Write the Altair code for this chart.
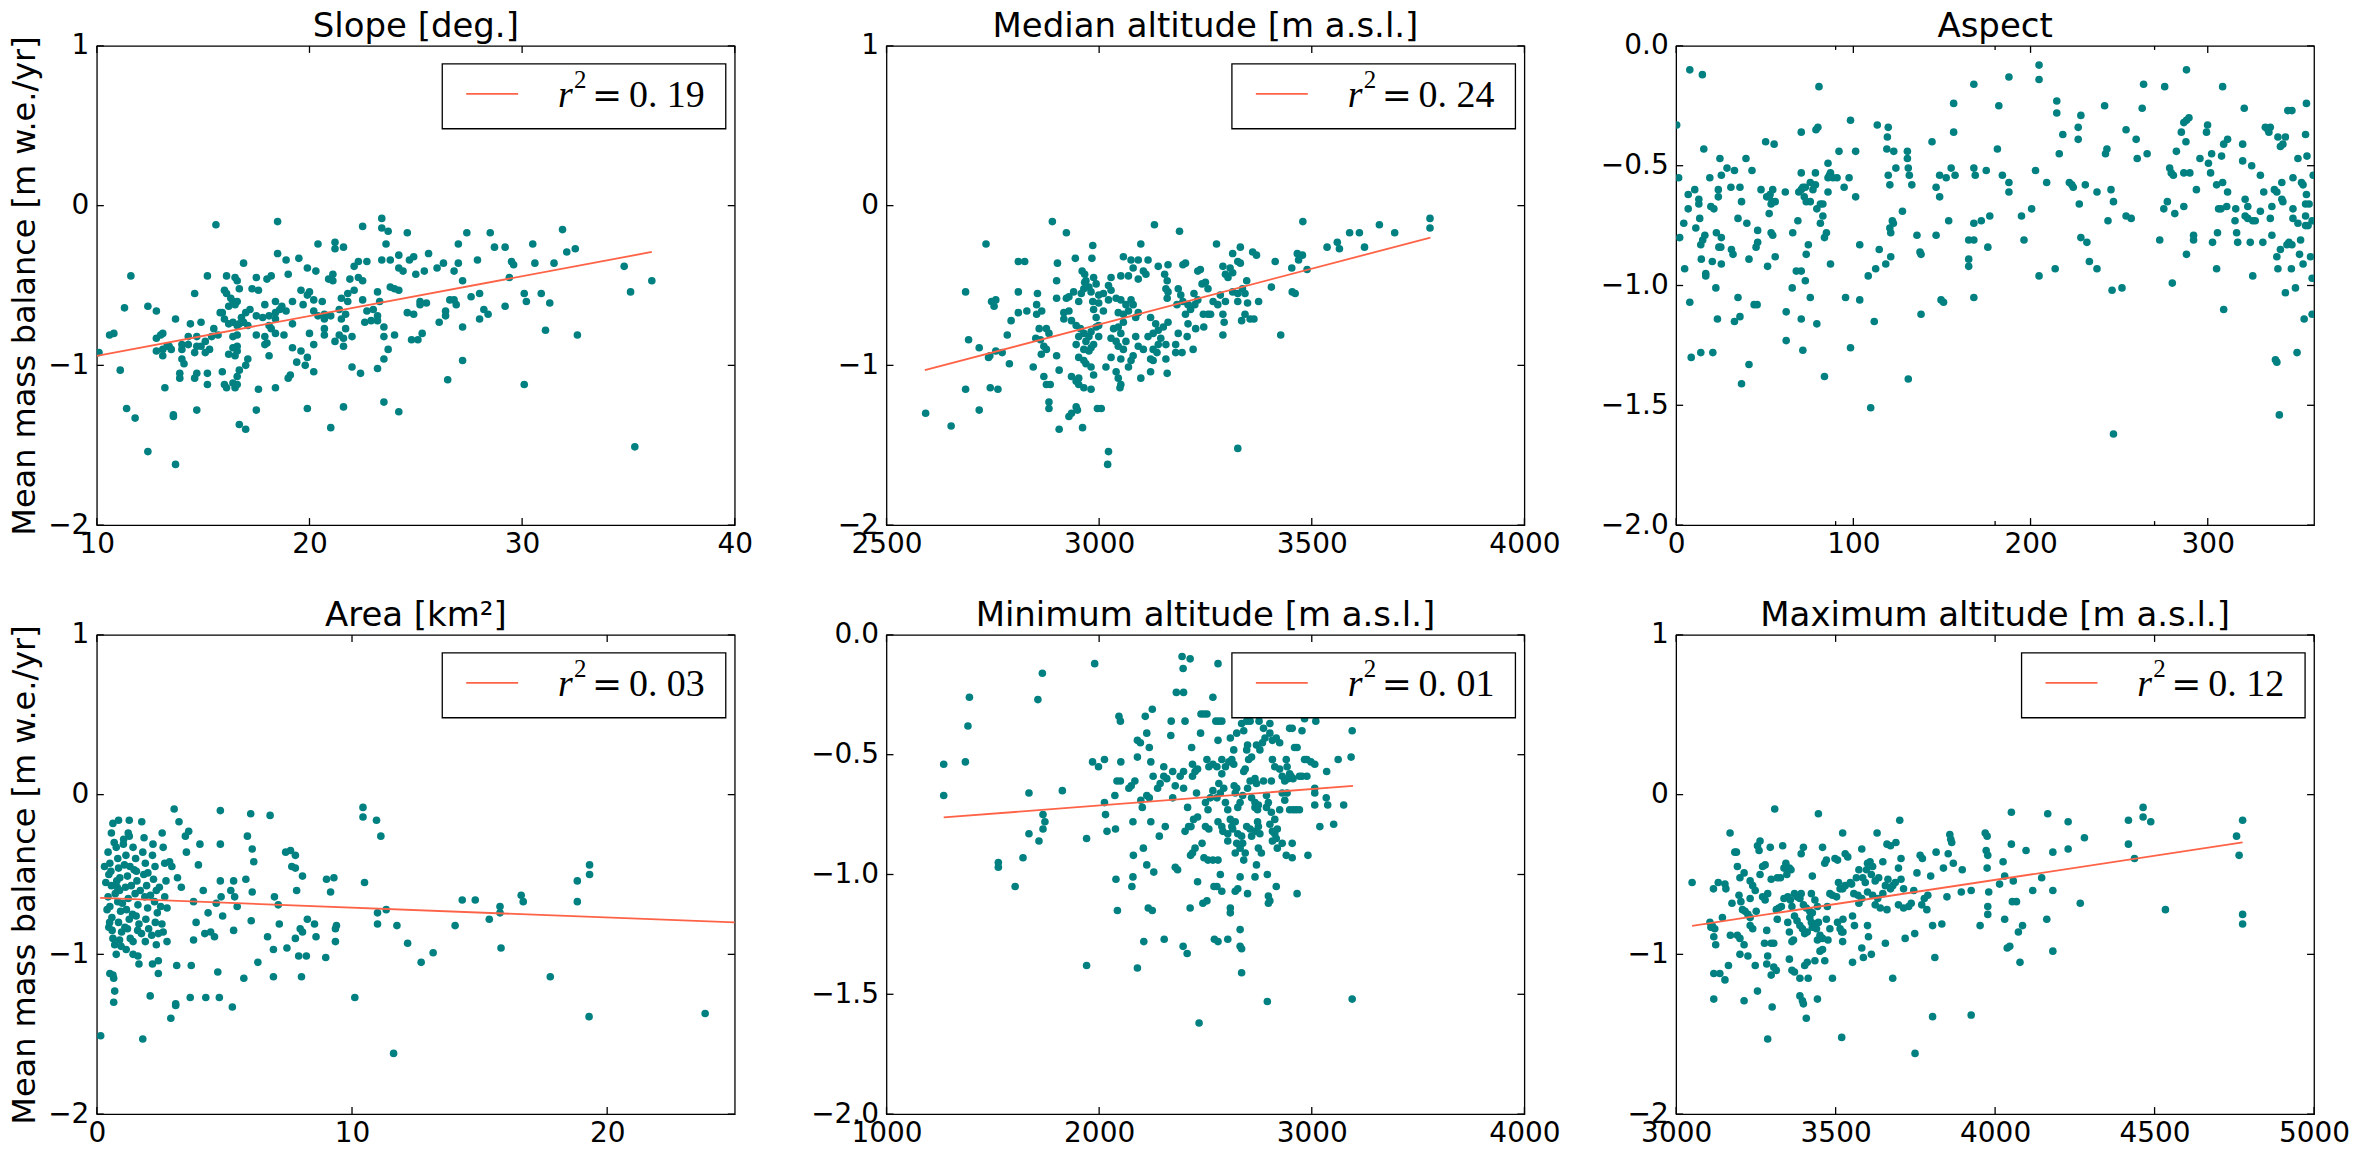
import altair as alt
import pandas as pd

# ---------------- data ----------------
SLOPE_X = [
    15.6, 18.5, 23.4, 23.4, 23.7, 22.5, 24.6, 27.4, 28.5, 31.9,
    20.4, 21.2, 21.2, 21.6, 23.6, 27.0, 28.7, 29.2, 30.5, 32.1, 32.5,
    34.8, 36.1, 35.1, 11.6, 11.3, 12.4, 12.8, 10.6, 10.8, 10.1,
    11.1, 11.4, 11.8, 12.4, 13.7, 13.6, 13.6, 13.2, 14.7, 16.7, 17.0,
    17.5, 19.9, 21.0, 21.6, 23.5, 24.2, 26.5, 27.2, 30.1, 31.1, 32.6, 35.3,
    31.3, 30.9, 30.1, 30.2, 29.2, 29.4, 29.5, 29.6, 30.6, 31.5, 27.9,
    28.2, 28.0, 28.4, 27.6, 28.0, 27.2, 27.0, 26.8, 27.2, 26.0, 26.3,
    26.1, 26.4, 26.4, 26.6, 26.8, 26.9, 25.6, 25.4, 25.0, 24.9, 24.7,
    24.2, 24.4, 24.2, 23.8, 23.4, 24.0, 24.2, 23.8, 23.2, 23.0, 23.3, 23.2,
    22.7, 22.6, 22.9, 23.2, 23.5, 23.5, 24.0, 23.7, 23.5, 23.2, 22.4, 22.0,
    24.8, 25.1, 25.3, 25.2, 25.2, 24.9, 24.6, 25.5,
    22.7, 22.3, 22.1, 22.3, 21.9, 22.5, 22.5, 22.1, 21.8, 21.8, 21.5,
    21.4, 21.7, 21.5, 21.7, 21.4, 21.6, 21.2, 22.0, 21.6,
    20.4, 20.6, 20.2, 20.0, 19.6, 19.9, 19.7, 20.2, 19.9, 20.3, 19.5,
    21.1, 21.1, 20.9, 20.7, 20.7, 21.0, 20.7, 20.7, 20.0,
    20.2, 19.9, 19.8, 20.2, 19.6, 19.4, 19.1, 19.0,
    19.2, 18.8, 19.2, 18.9, 19.2, 18.4, 18.6, 18.4, 18.7,
    17.9, 18.1, 18.4, 18.1, 17.8, 18.2, 18.4, 17.9, 17.5, 17.9, 18.0, 18.1,
    17.5, 17.2, 17.0, 16.8, 16.9, 17.1, 17.3, 17.6, 17.5, 18.0, 18.2,
    18.5, 18.9, 19.0,
    16.9, 16.5, 16.6, 16.7, 16.1, 16.0, 16.1, 16.3, 16.4, 16.6, 16.2, 16.5,
    15.8, 15.9, 16.0, 16.2, 16.4, 16.6, 16.7, 16.6, 16.4, 16.6, 16.4, 16.6, 16.2, 16.5,
    17.1, 17.0, 16.7, 16.6, 16.4, 16.1, 16.5, 16.6, 17.6, 18.4, 15.9, 16.0, 15.2, 15.2,
    15.3, 15.4, 15.1, 15.5, 15.7, 15.2, 14.6, 14.4, 14.9,
    14.7, 14.9, 14.7, 14.6, 15.1, 14.7, 14.6, 14.0, 14.0, 14.1, 13.9, 13.9,
    13.7, 13.4, 13.5, 14.0, 13.0, 13.1, 12.8, 13.1, 12.8, 13.1, 13.3, 14.3, 14.3,
]
SLOPE_Y = [
    -0.12, -0.10, -0.08, -0.14, -0.16, -0.13, -0.17, -0.17, -0.17, -0.15,
    -0.24, -0.23, -0.27, -0.26, -0.24, -0.24, -0.26, -0.26, -0.24, -0.29, -0.27,
    -0.38, -0.47, -0.54, -0.44, -0.64, -0.63, -0.66, -0.81, -0.80, -0.92,
    -1.03, -1.27, -1.33, -1.54, -1.62, -1.31, -1.32, -1.14, -1.28, -1.37, -1.40,
    -1.28, -1.27, -1.39, -1.26, -1.23, -1.29, -1.09, -0.97, -1.12, -0.78, -0.81, -1.51,
    -0.61, -0.55, -0.55, -0.60, -0.63, -0.45, -0.35, -0.37, -0.36, -0.36, -0.34,
    -0.65, -0.71, -0.68, -0.57, -0.55, -0.47, -0.36, -0.41, -0.76, -0.39, -0.36,
    -0.73, -0.69, -0.66, -0.59, -0.59, -0.62, -0.30, -0.41, -0.43, -0.32, -0.34,
    -0.31, -0.41, -0.39, -0.34, -0.34, -0.52, -0.53, -0.51, -0.54, -0.65, -0.60, -0.69,
    -0.66, -0.73, -0.72, -0.72, -0.76, -0.82, -0.81, -0.90, -0.96, -1.02, -1.05, -1.01,
    -0.84, -0.84, -0.80, -0.60, -0.62, -0.68, -0.67, -0.61,
    -0.35, -0.35, -0.38, -0.45, -0.46, -0.47, -0.59, -0.53, -0.55, -0.60, -0.58,
    -0.65, -0.68, -0.71, -0.77, -0.81, -0.83, -0.85, -0.82, -0.88,
    -0.69, -0.60, -0.59, -0.54, -0.53, -0.56, -0.62, -0.66, -0.39, -0.41, -0.33,
    -0.43, -0.47, -0.46, -0.71, -0.68, -0.69, -0.77, -0.81, -0.80,
    -0.87, -0.95, -1.00, -1.04, -0.91, -0.98, -1.06, -1.08,
    -0.89, -0.81, -0.74, -0.66, -0.60, -0.67, -0.65, -0.60, -0.63,
    -0.62, -0.69, -0.71, -0.75, -0.70, -0.77, -0.80, -0.82, -0.81, -0.87, -0.86, -0.94,
    -0.69, -0.65, -0.67, -0.70, -0.73, -0.75, -0.52, -0.53, -0.45, -0.46, -0.44,
    -0.30, -0.34, -0.43,
    -0.36, -0.45, -0.47, -0.52, -0.44, -0.53, -0.55, -0.58, -0.60, -0.60, -0.63, -0.62,
    -0.67, -0.67, -0.71, -0.74, -0.73, -0.75, -0.74, -0.81, -0.82, -0.88, -0.89, -0.91, -0.93, -0.94,
    -0.96, -1.00, -1.03, -1.07, -1.11, -1.14, -1.14, -1.12, -1.15, -1.14, -1.04, -1.12, -1.12, -1.05,
    -0.90, -0.82, -0.85, -0.77, -0.81, -0.44, -0.55, -0.74, -0.73,
    -0.82, -0.88, -0.88, -0.92, -0.92, -1.05, -1.08, -0.90, -0.96, -0.99, -1.05, -1.08,
    -0.71, -0.88, -0.90, -0.87, -0.81, -0.80, -0.83, -0.90, -0.91, -0.94, -0.88, -0.82, -0.87,
]

MED_X = [
    2890, 2923, 2734, 2985, 3130, 3098, 3189, 3276, 3332, 3479,
    3589, 3612, 3659, 3695, 3778, 3778, 3536, 3560, 3565, 3624,
    3414, 3466, 3478, 3469, 3453, 3489, 3454, 3461, 3405, 3427,
    3361, 3370, 3314, 3326, 3308, 3332, 3297, 3303, 3291, 3314,
    3347, 3337, 3343, 3326, 3314, 3326, 3349, 3375,
    3297, 3285, 3279, 3268, 3262, 3291, 3291, 3294, 3335, 3355, 3364, 3343,
    3250, 3256, 3242, 3223, 3232, 3238, 3232, 3197, 3203, 3162, 3139,
    3115, 3092, 3075, 3057, 3080, 3104, 3092, 3110, 3069, 3051, 3028, 3022,
    3154, 3160, 3157, 3162, 3186, 3192, 3160, 3197, 3183,
    3209, 3215, 3225, 3203, 3245, 3256, 3246, 3227, 3209, 3221,
    3207, 3195, 3180, 3160,
    3162, 3151, 3133, 3121, 3139, 3127, 3145, 3115, 3186, 3180,
    3157, 3139, 3127, 3136, 3157, 3121, 3127, 3121, 3098,
    3104, 3092, 3080, 3086, 3063, 3075, 3069,
    3092, 3086, 3080, 3075, 3069, 3057, 3045, 3040, 3051, 3063,
    3057, 3045, 3034, 3051, 3028, 3040, 3045, 3057, 3051, 3028,
    3040, 3045, 3051, 3049, 3016, 3005, 3022, 3020, 3326,
    3022, 3028, 3010, 2999, 2999, 3010, 2993, 2987, 2985,
    2987, 2993, 2981, 2964, 2969, 2966, 2958, 2940, 2929, 2923, 2917, 2929, 2952,
    2900, 2917, 2935, 2946, 2956, 2964, 2976, 2981, 2969, 2987, 2981, 2976,
    2999, 2999, 2993, 2952, 2946, 2964, 2952, 2969, 2981, 2987,
    2964, 2952, 2946, 2952, 2964, 2981,
    2935, 2906, 2900, 2882, 2876, 2859, 2862, 2870, 2876, 2864, 2870, 2876, 2885,
    2882, 2882, 2935, 2929, 2946, 2949, 2906, 2961, 2996,
    2845, 2851, 2865, 2853, 2853, 2855, 2830, 2810, 2810, 2793, 2784, 2789, 2772, 2757, 2743,
    2810, 2825, 2902, 2944, 2983, 2900, 2747, 2753, 2757, 2686,
    2693, 2718, 2740, 2744, 2762, 2686, 2718, 2652, 2592, 2960, 2966, 2976,
]
MED_Y = [
    -0.10, -0.17, -0.24, -0.25, -0.12, -0.24, -0.16, -0.24, -0.26, -0.10,
    -0.17, -0.17, -0.12, -0.17, -0.08, -0.14, -0.26, -0.23, -0.27, -0.26,
    -0.35, -0.30, -0.31, -0.34, -0.39, -0.40, -0.54, -0.55, -0.51, -0.81,
    -0.29, -0.31, -0.30, -0.35, -0.39, -0.36, -0.43, -0.45, -0.38, -0.42,
    -0.47, -0.52, -0.55, -0.55, -0.54, -0.60, -0.61, -0.60,
    -0.60, -0.56, -0.62, -0.60, -0.68, -0.68, -0.81, -0.73, -0.72, -0.71, -0.71, -0.68,
    -0.48, -0.52, -0.49, -0.55, -0.59, -0.40, -0.41, -0.37, -0.36, -0.37, -0.38,
    -0.34, -0.34, -0.34, -0.32, -0.39, -0.41, -0.46, -0.43, -0.44, -0.44, -0.45, -0.50,
    -0.43, -0.47, -0.52, -0.54, -0.52, -0.56, -0.58, -0.60, -0.62,
    -0.62, -0.65, -0.62, -0.68, -0.68, -0.68, -0.76, -0.77, -0.74, -0.90,
    -0.82, -0.92, -0.92, -1.05,
    -0.73, -0.76, -0.74, -0.70, -0.78, -0.80, -0.83, -0.82, -0.80, -0.87,
    -0.87, -0.87, -0.90, -0.92, -0.96, -0.96, -0.97, -1.04, -1.08,
    -0.90, -0.88, -0.94, -0.82, -0.85, -0.97, -1.01,
    -0.67, -0.70, -0.62, -0.59, -0.66, -0.68, -0.67, -0.58, -0.59, -0.62,
    -0.73, -0.76, -0.77, -0.80, -0.83, -0.85, -0.88, -0.90, -0.96, -0.95,
    -1.04, -1.08, -1.12, -1.14, -1.01, -1.27, -1.54, -1.62, -1.52,
    -0.59, -0.53, -0.55, -0.56, -0.61, -0.66, -0.70, -0.65, -0.60,
    -0.45, -0.49, -0.54, -0.52, -0.47, -0.43, -0.55, -0.54, -0.57, -0.58, -0.67, -0.66, -0.60,
    -0.58, -0.71, -0.72, -0.75, -0.77, -0.80, -0.82, -0.79, -0.85, -0.87, -0.89, -0.91,
    -0.75, -0.82, -0.76, -0.82, -0.87, -0.90, -0.95, -0.99, -1.01, -1.06,
    -0.97, -1.08, -1.10, -1.12, -1.14, -1.15,
    -1.07, -1.03, -0.94, -0.80, -0.77, -0.77, -0.84, -0.88, -0.90, -0.93, -1.07, -1.12, -1.12,
    -1.23, -1.27, -1.30, -1.32, -1.26, -1.28, -1.40, -1.39, -1.27,
    -1.01, -0.83, -0.66, -0.62, -0.68, -0.55, -0.66, -0.67, -0.54, -0.72, -0.81, -0.99, -0.92, -0.91, -0.94,
    -0.35, -0.35, -0.36, -0.33, -0.33, -0.47, -0.60, -0.63, -0.59, -0.54,
    -0.84, -0.89, -0.95, -1.14, -1.15, -1.15, -1.28, -1.38, -1.30, -0.41, -0.48, -0.51,
]

ASP_X = [
    0.3, 1.4, 2, 4.3, 4.8, 6.8, 7.7, 6.8, 7.7, 8.5,
    10.5, 11.1, 12.8, 12.8, 13.3, 13.9, 15.0, 16.2, 14.2, 13.9,
    14.8, 15.6, 16.7, 16.7, 19, 19.6, 20.4, 21.3, 20.7, 22.4,
    22.7, 23.3, 23.8, 23.8, 24.1, 25.2, 24.7, 25.5, 25.5, 25.5,
    28.7, 30.9, 31.2, 32.1, 32.9, 32.9, 34.9, 34.9, 36, 36,
    36.9, 36.9, 39.4, 39.9, 41.1, 41.1, 42.8, 44, 45.7, 45.1,
    46, 46, 47.9, 50.5, 55.3, 51.1, 52.5, 53, 53.6, 52.5,
    54.5, 54.2, 55.9, 53.6, 51.6, 54.5, 55.9, 61.6, 62.1, 62.1,
    65.5, 65.8, 67.8, 70.6, 68.7, 69.2, 70.6, 71.5, 72.9, 70.6,
    70.6, 70.6, 71.5, 72.3, 73.4, 75.7, 72.9, 73.4, 74.6, 75.7,
    77.2, 78.6, 75.7, 78.6, 78.9, 80, 79.4, 80.6, 79.4, 81.4,
    82.8, 81.4, 82.8, 83.7, 83.7, 84.8, 85.7, 86.5, 85.7, 87.1,
    88.5, 85.7, 87.1, 91.9, 90.8, 94.8, 95.6, 97.6, 98.4, 98.4,
    101.3, 101.3, 103.6, 103.6, 108.4, 109.8, 111.8, 112.6, 113.5, 114.6,
    118.9, 119.2, 119.7, 118.3, 119.7, 120.6, 120.6, 121.1, 121.1, 122,
    122.6, 122.8, 124, 127.7, 130.5, 130.5, 131, 131.6, 131, 133,
    135.9, 137.6, 138.2, 138.2, 144.4, 146.7, 146.7, 148.7, 148.7, 149.5,
    150.9, 152.4, 153.8, 155.2, 157.4, 156.6, 156.6, 165.1, 168, 165.1,
    165.1, 168, 168, 168, 168, 168.8, 172.2, 175, 175.9, 177,
    181.3, 182.1, 184.1, 187.8, 187.8, 187.8, 194.9, 196.3, 200.6, 202.8,
    204.8, 204.8, 204.8, 209.1, 213.9, 214.8, 214.8, 216.2, 218.2, 221.9,
    223.3, 224.1, 226.9, 226.9, 228.4, 227.5, 228.4, 231.8, 230.9, 233.2,
    237.5, 237.5, 241.8, 242.3, 243.1, 243.7, 245.4, 246.8, 246, 246.8,
    251.6, 253.9, 253.9, 256.8, 259.6, 260.2, 263, 263.8, 265.8, 272.9,
    275.2, 277.2, 275.7, 278.5, 279.4, 280.6, 280, 281.4, 282.3, 285.1,
    286.5, 288, 289.4, 286.5, 286.5, 289.9, 287.7, 288, 288, 292,
    292, 293.6, 295.6, 299.3, 299.9, 300.4, 302.2, 301.6, 302.7, 305,
    305, 306.1, 307.5, 305.5, 307.8, 308.4, 308.4, 309, 309, 310.7,
    311.2, 311.2, 315.4, 316.3, 316.9, 315.8, 319.7, 319.7, 320.6, 321.1,
    321.1, 322.6, 322.6, 324, 324.8, 325.4, 326.8, 325.4, 329.7, 329.7,
    331.1, 331.6, 332.5, 334, 335.3, 334.5, 335.3, 336.2, 336.2, 337.6,
    339, 339, 339.6, 338.2, 339, 339.6, 341, 342.4, 343.8, 340.4,
    341, 341.8, 342.4, 341.8, 343.8, 344.7, 345.8, 347.5, 345.2, 347.5,
    347.2, 348.1, 348.1, 348.1, 349.5, 350.4, 350.9, 350.9, 351.8, 352.4,
    352.9, 353.8, 353.8, 354.4, 355.2, 355.2, 356.6, 355.2, 355.2, 357.2,
    355.7, 355.7, 356, 358, 358.9, 358.9, 358.9, 359.5,
]
ASP_Y = [
    -0.33, -0.55, -0.80, -0.74, -0.93, -0.68, -0.10, -0.62, -1.07, -1.30,
    -0.60, -0.76, -0.64, -0.66, -0.72, -0.83, -0.81, -0.79, -0.89, -1.28,
    -0.12, -0.43, -0.95, -0.96, -0.55, -0.67, -0.90, -0.68, -1.28, -1.01,
    -0.78, -1.14, -0.63, -0.60, -0.84, -0.84, -0.47, -0.54, -0.80, -0.91,
    -0.51, -0.59, -0.85, -0.87, -0.52, -1.15, -0.72, -1.05, -0.59, -1.13,
    -0.65, -1.41, -0.47, -0.74, -0.89, -1.33, -0.52, -1.08, -1.08, -0.84,
    -0.82, -0.77, -0.60, -0.40, -0.41, -0.63, -0.63, -0.62, -0.66, -0.70,
    -0.60, -0.65, -0.65, -0.78, -0.92, -0.79, -0.88, -0.61, -1.11, -1.23,
    -1.01, -0.78, -0.94, -0.94, -0.73, -0.61, -0.60, -0.59, -0.59, -0.53,
    -0.36, -1.14, -1.27, -0.63, -0.65, -0.65, -0.98, -0.87, -0.83, -0.57,
    -0.60, -0.58, -1.05, -0.53, -0.35, -0.34, -1.16, -0.17, -0.68, -0.66,
    -0.66, -0.74, -0.71, -0.80, -1.38, -0.78, -0.49, -0.54, -0.55, -0.53,
    -0.55, -0.61, -0.91, -0.44, -0.55, -0.59, -1.05, -0.55, -1.26, -0.31,
    -0.44, -0.63, -1.06, -0.83, -0.96, -1.51, -1.15, -0.93, -0.33, -0.85,
    -0.43, -0.38, -0.34, -0.91, -0.54, -0.58, -0.76, -0.78, -0.88, -0.73,
    -0.74, -0.44, -0.51, -0.69, -0.44, -0.47, -0.51, -0.54, -1.39, -0.58,
    -0.79, -0.86, -0.87, -1.12, -0.40, -0.59, -0.79, -0.54, -0.63, -1.06,
    -1.07, -0.55, -0.73, -0.51, -0.54, -0.36, -0.24, -0.81, -0.81, -0.89,
    -0.92, -0.74, -1.05, -0.16, -0.51, -0.54, -0.73, -0.52, -0.84, -0.71,
    -0.43, -0.25, -0.54, -0.13, -0.57, -0.61, -0.71, -0.81, -0.68, -0.52,
    -0.08, -0.14, -0.96, -0.57, -0.93, -0.23, -0.28, -0.45, -0.37, -0.57,
    -0.58, -0.59, -0.34, -0.39, -0.29, -0.66, -0.80, -0.82, -0.58, -0.90,
    -0.61, -0.93, -0.25, -0.45, -0.43, -0.73, -0.60, -0.65, -1.02, -1.62,
    -1.01, -0.35, -0.71, -0.72, -0.39, -0.47, -0.26, -0.16, -0.45, -0.81,
    -0.68, -0.65, -0.17, -0.51, -0.53, -0.54, -0.99, -0.70, -0.44, -0.36,
    -0.32, -0.31, -0.30, -0.67, -0.53, -0.53, -0.40, -0.10, -0.87, -0.79,
    -0.81, -0.60, -0.47, -0.36, -0.33, -0.49, -0.45, -0.53, -0.82, -0.58,
    -0.93, -0.68, -0.68, -0.78, -0.46, -0.17, -0.57, -0.41, -1.10, -0.67,
    -0.61, -0.39, -0.73, -0.78, -0.82, -0.68, -0.41, -0.48, -0.26, -0.64,
    -0.71, -0.72, -0.67, -0.82, -0.50, -0.73, -0.73, -0.96, -0.54, -0.69,
    -0.82, -0.61, -0.34, -0.35, -0.34, -0.36, -0.72, -0.79, -0.67, -0.60,
    -0.61, -0.88, -0.93, -1.31, -1.32, -0.38, -0.42, -0.41, -0.38, -1.54,
    -0.85, -0.64, -0.65, -0.57, -1.03, -0.83, -0.82, -0.83, -0.27, -0.27,
    -0.93, -0.55, -0.68, -0.72, -1.01, -1.28, -0.47, -0.74, -0.87, -0.81,
    -0.57, -0.58, -0.91, -1.14, -0.71, -0.75, -0.75, -0.37, -0.66, -0.66,
    -0.62, -0.24, -0.46, -0.88, -0.73, -0.97, -1.12, -0.54,
]

AREA_X = [
    0.15, 0.51, 0.63, 0.66, 0.70, 0.66, 0.76, 0.57, 0.63, 0.85,
    1.27, 1.76, 1.23, 1.27, 0.44, 0.51, 0.47, 0.57, 0.44, 0.51,
    0.59, 0.47, 0.63, 0.70, 0.76, 0.82, 0.85, 0.78, 0.89, 0.82,
    0.93, 0.85, 0.97, 0.89, 1.04, 1.14, 1.08, 1.20, 1.12, 1.23,
    1.16, 1.27, 1.20, 1.31, 1.42, 1.52, 1.46, 1.57, 1.50, 1.61,
    1.54, 1.65, 1.42, 1.80, 1.90, 1.84, 1.95, 1.88, 1.99, 1.92,
    2.03, 1.90, 2.18, 2.28, 2.22, 2.33, 2.26, 2.37, 2.29, 2.41,
    2.33, 2.56, 2.60, 2.66, 2.71, 2.66, 2.75, 2.60, 1.42, 1.61,
    1.65, 1.80, 2.09, 2.18, 2.41, 2.41, 2.75, 3.03, 3.22, 2.85,
    2.94, 3.16, 3.31, 2.90, 3.09, 3.09, 3.13, 3.47, 3.60, 3.51,
    3.70, 3.66, 3.79, 3.79, 3.89, 3.98, 4.04, 4.17, 4.23, 4.36,
    4.27, 4.46, 4.61, 4.68, 4.74, 4.84, 4.84, 4.84, 4.87, 4.80,
    4.93, 5.31, 5.36, 5.25, 5.36, 5.40, 5.50, 5.76, 5.84, 5.90,
    6.03, 6.09, 6.15, 6.09, 6.05, 6.31, 6.69, 6.79, 6.92, 6.92,
    6.96, 7.11, 7.15, 7.40, 7.45, 7.59, 7.64, 7.78, 7.78, 7.83,
    7.78, 7.91, 7.97, 8.02, 8.06, 8.06, 8.21, 8.25, 8.53, 8.59,
    8.97, 9.00, 9.16, 9.29, 9.35, 9.35, 9.39, 10.11, 10.43, 10.43,
    10.49, 10.96, 11.13, 11.0, 11.0, 11.34, 11.63, 11.76, 12.18, 12.71,
    13.18, 14.04, 14.32, 14.83, 15.38, 15.80, 15.80, 15.84, 16.63, 16.71,
    17.77, 18.83, 18.83, 19.31, 19.31, 19.29, 23.84,
    0.35, 0.40, 0.55, 0.60, 0.72, 0.90, 1.00, 1.10, 1.35, 1.40,
    1.55, 1.70, 1.75, 2.00, 2.10, 2.15, 2.45, 2.50, 0.30, 0.95,
    0.68, 1.05, 1.30, 1.85, 2.20, 0.80, 1.60, 2.55, 0.50, 1.15,
]
AREA_Y = [
    -1.51, -1.12, -1.13, -1.15, -1.23, -1.30, -1.00, -0.24, -0.18, -0.16,
    -0.16, -0.17, -0.24, -0.26, -0.36, -0.43, -0.50, -0.57, -0.64, -0.70,
    -0.77, -0.83, -0.90, -0.94, -0.33, -0.40, -0.46, -0.54, -0.60, -0.67,
    -0.73, -0.80, -0.86, -0.91, -0.31, -0.38, -0.44, -0.51, -0.58, -0.65,
    -0.72, -0.78, -0.84, -0.90, -0.33, -0.40, -0.47, -0.54, -0.62, -0.69,
    -0.76, -0.81, -0.92, -0.36, -0.43, -0.50, -0.57, -0.64, -0.71, -0.78,
    -0.84, -0.92, -0.38, -0.45, -0.53, -0.60, -0.67, -0.74, -0.80, -0.87,
    -0.94, -0.24, -0.33, -0.43, -0.54, -0.64, -0.71, -0.86, -1.00, -1.01,
    -1.06, -1.53, -1.26, -1.06, -1.04, -1.12, -0.92, -0.09, -0.17, -0.42,
    -0.45, -0.52, -0.58, -1.40, -1.31, -1.32, -1.07, -0.26, -0.23, -0.36,
    -1.07, -1.27, -0.67, -0.91, -0.80, -0.44, -0.31, -0.60, -0.87, -0.74,
    -1.27, -0.86, -0.89, -0.68, -1.11, -0.10, -0.31, -0.54, -0.64, -1.27,
    -0.76, -1.33, -0.85, -0.60, -0.54, -0.64, -0.70, -1.15, -0.53, -0.26,
    -0.12, -0.34, -0.42, -0.61, -0.79, -1.05, -0.89, -0.13, -0.97, -1.14,
    -0.64, -0.69, -0.81, -0.36, -0.96, -0.35, -0.45, -0.38, -0.46, -0.60,
    -0.90, -1.01, -0.84, -1.14, -0.86, -0.51, -1.01, -0.78, -0.81, -0.89,
    -1.02, -0.53, -0.61, -0.52, -0.92, -0.84, -0.82, -1.27, -0.08, -0.14,
    -0.55, -0.16, -0.26, -0.74, -0.81, -0.72, -1.62, -0.82, -0.93, -1.05,
    -0.99, -0.82, -0.66, -0.66, -0.78, -0.70, -0.74, -0.96, -0.63, -0.67,
    -1.14, -0.54, -0.67, -0.44, -0.50, -1.39, -1.37,
    -0.55, -0.72, -0.48, -0.85, -0.62, -0.52, -0.68, -0.83, -0.57, -0.75,
    -0.48, -0.60, -0.87, -0.49, -0.63, -0.88, -0.58, -0.70, -0.45, -0.95,
    -0.30, -0.28, -0.45, -0.27, -0.31, -0.58, -0.85, -0.81, -0.80, -0.97,
]

MIN_X = [
    1269, 1269, 1371, 1383, 1390, 1526, 1526, 1605, 1642, 1670,
    1670, 1712, 1717, 1733, 1736, 1736, 1745, 1827, 1941, 1941,
    1969, 1997, 2025, 1979, 2025, 2030, 2037, 2074, 2079, 2086,
    2077, 2084, 2100, 2093, 2100, 2102, 2140, 2151, 2168, 2159,
    2161, 2159, 2154, 2180, 2180, 2194, 2180, 2196, 2203, 2208,
    2210, 2217, 2224, 2236, 2224, 2224, 2231, 2250, 2236, 2243,
    2250, 2243, 2254, 2257, 2275, 2287, 2283, 2304, 2304, 2318,
    2306, 2311, 2339, 2337, 2346, 2358, 2381, 2397, 2346, 2358,
    2369, 2363, 2397, 2390, 2395, 2395, 2414, 2397, 2404, 2404,
    2416, 2421, 2432, 2428, 2428, 2430, 2439, 2451, 2435, 2439,
    2439, 2451, 2463, 2444, 2463, 2458, 2463, 2470, 2479, 2493,
    2507, 2477, 2484, 2493, 2512, 2535, 2559, 2488, 2507, 2500,
    2512, 2523, 2535, 2500, 2516, 2507, 2516, 2535, 2554, 2535,
    2549, 2540, 2554, 2577, 2542, 2559, 2554, 2563, 2570, 2586,
    2559, 2559, 2559, 2577, 2582, 2605, 2605, 2563, 2577, 2577,
    2577, 2594, 2610, 2624, 2633, 2570, 2605, 2617, 2617, 2594,
    2605, 2617, 2624, 2628, 2640, 2652, 2635, 2647, 2640, 2652,
    2663, 2675, 2617, 2633, 2647, 2640, 2647, 2663, 2670, 2675,
    2687, 2680, 2640, 2652, 2663, 2698, 2663, 2663, 2670, 2670,
    2670, 2680, 2694, 2710, 2680, 2687, 2694, 2698, 2703, 2717,
    2698, 2710, 2733, 2740, 2717, 2733, 2745, 2749, 2694, 2710,
    2717, 2733, 2749, 2756, 2733, 2745, 2740, 2756, 2768, 2773,
    2780, 2740, 2733, 2749, 2763, 2752, 2803, 2773, 2787, 2810,
    2787, 2796, 2803, 2815, 2826, 2815, 2833, 2838, 2791, 2796,
    2796, 2803, 2791, 2803, 2815, 2833, 2849, 2815, 2826, 2849,
    2861, 2873, 2810, 2826, 2849, 2838, 2861, 2880, 2833, 2861,
    2873, 2884, 2889, 2896, 2903, 2912, 2896, 2908, 2919, 2931,
    2880, 2884, 2896, 2912, 2926, 2942, 2908, 2908, 2931, 2954,
    2966, 2942, 2954, 2977, 2966, 2977, 2996, 3014, 2982, 3014,
    3014, 3014, 3038, 3019, 3068, 3075, 3070, 3103, 3124, 3150,
    3185, 3190, 3190,
]
MIN_Y = [
    -0.54, -0.67, -0.53, -0.38, -0.26, -0.95, -0.97, -1.05, -0.93, -0.66,
    -0.83, -0.27, -0.86, -0.16, -0.75, -0.81, -0.78, -0.65, -0.85, -1.38,
    -0.53, -0.55, -0.52, -0.12, -0.70, -0.75, -0.82, -0.67, -1.02, -1.15,
    -0.81, -0.61, -0.61, -0.34, -0.36, -0.53, -0.64, -0.63, -0.61, -0.78,
    -0.92, -1.01, -1.05, -0.51, -0.44, -0.45, -1.39, -0.69, -0.72, -0.89,
    -1.28, -0.34, -0.41, -0.47, -0.67, -0.96, -1.14, -1.15, -0.68, -0.78,
    -0.31, -0.53, -0.59, -0.99, -0.64, -0.62, -0.84, -0.55, -0.59, -0.60,
    -1.27, -0.80, -0.36, -0.42, -0.57, -0.63, -0.59, -0.57, -0.68, -0.97,
    -0.98, -0.24, -0.24, -0.09, -0.14, -1.30, -1.33, -0.64, -0.82, -0.36,
    -0.72, -0.80, -0.80, -0.10, -1.14, -0.92, -0.91, -0.89, -0.47, -0.54,
    -0.59, -0.57, -0.56, -0.77, -0.76, -0.66, -1.03, -1.62, -0.33, -0.33,
    -0.33, -0.41, -0.87, -0.93, -0.94, -0.94, -0.94, -1.12, -1.11, -0.70,
    -0.73, -0.68, -0.65, -0.80, -0.81, -0.52, -0.55, -0.54, -0.55, -0.26,
    -0.36, -1.05, -1.05, -1.07, -1.27, -1.28, -0.68, -0.62, -0.66, -0.64,
    -0.12, -0.44, -0.78, -0.80, -0.82, -0.83, -0.86, -0.36, -0.36, -0.52,
    -0.58, -0.55, -0.53, -0.52, -0.54, -1.00, -1.27, -1.14, -1.16, -0.70,
    -0.73, -0.77, -0.80, -0.81, -0.78, -0.83, -0.63, -0.64, -0.66, -0.72,
    -0.70, -0.67, -0.43, -0.48, -0.41, -0.91, -0.87, -0.89, -0.84, -0.87,
    -0.91, -0.94, -1.07, -1.06, -1.01, -1.08, -1.23, -1.30, -1.31, -1.41,
    -0.37, -0.40, -0.36, -0.36, -0.57, -0.56, -0.48, -0.46, -0.52, -0.51,
    -0.64, -0.61, -0.60, -0.62, -0.68, -0.70, -0.73, -0.71, -0.80, -0.81,
    -0.84, -0.82, -0.80, -0.83, -0.72, -0.78, -0.46, -0.48, -0.45, -0.39,
    -0.43, -0.96, -1.01, -0.89, -0.91, -0.36, -0.37, -0.61, -0.67, -0.61,
    -0.72, -0.70, -0.79, -0.82, -0.83, -0.86, -0.85, -0.81, -1.00, -1.09,
    -1.12, -1.11, -1.53, -0.41, -0.44, -0.43, -0.45, -0.52, -0.55, -0.56,
    -0.59, -0.61, -0.74, -0.77, -0.73, -0.89, -0.87, -0.92, -1.05, -0.66,
    -0.69, -0.66, -0.60, -0.58, -0.59, -0.60, -0.39, -0.39, -0.47, -0.47,
    -0.52, -0.55, -0.73, -0.73, -0.73, -0.73, -0.87, -0.93, -1.08, -0.40,
    -0.35, -0.59, -0.59, -0.59, -0.52, -0.52, -0.53, -0.54, -0.92, -0.64,
    -0.66, -0.71, -0.80, -0.36, -0.68, -0.71, -0.57, -0.79, -0.52, -0.71,
    -0.51, -0.40, -1.52,
]

MAX_X = [
    3050, 3106, 3109, 3113, 3121, 3117, 3118, 3124, 3118, 3118,
    3132, 3153, 3156, 3137, 3153, 3145, 3164, 3169, 3170, 3175,
    3184, 3189, 3192, 3200, 3197, 3203, 3192, 3200, 3200, 3208,
    3216, 3225, 3213, 3213, 3213, 3225, 3232, 3240, 3248, 3232,
    3232, 3232, 3240, 3251, 3255, 3260, 3263, 3248, 3255, 3263,
    3271, 3279, 3271, 3279, 3287, 3277, 3284, 3287, 3287, 3284,
    3295, 3298, 3298, 3306, 3298, 3301, 3309, 3306, 3314, 3314,
    3322, 3330, 3317, 3317, 3327, 3338, 3334, 3344, 3355, 3360,
    3347, 3350, 3358, 3338, 3363, 3350, 3355, 3363, 3368, 3355,
    3371, 3363, 3388, 3371, 3379, 3388, 3392, 3371, 3379, 3388,
    3396, 3403, 3411, 3388, 3396, 3399, 3408, 3392, 3399, 3399,
    3408, 3419, 3427, 3403, 3411, 3414, 3419, 3424, 3435, 3427,
    3440, 3446, 3427, 3424, 3435, 3443, 3443, 3446, 3435, 3443,
    3451, 3459, 3451, 3459, 3466, 3459, 3466, 3471, 3474, 3471,
    3482, 3476, 3482, 3490, 3503, 3490, 3498, 3506, 3509, 3506,
    3514, 3519, 3522, 3523, 3523, 3522, 3530, 3538, 3514, 3522,
    3530, 3519, 3546, 3550, 3557, 3565, 3573, 3553, 3559, 3553,
    3570, 3582, 3573, 3585, 3597, 3593, 3600, 3582, 3582, 3587,
    3600, 3603, 3612, 3600, 3608, 3616, 3612, 3624, 3635, 3630,
    3616, 3624, 3632, 3640, 3648, 3656, 3664, 3672, 3679, 3687,
    3648, 3656, 3661, 3672, 3661, 3679, 3689, 3701, 3697, 3705,
    3713, 3705, 3697, 3713, 3729, 3737, 3745, 3718, 3748, 3749,
    3755, 3765, 3772, 3770, 3778, 3786, 3789, 3798, 3804, 3804,
    3811, 3815, 3833, 3838, 3849, 3853, 3858, 3861, 3864, 3869,
    3894, 3897, 3925, 3925, 3953, 3969, 3975, 3972, 3977, 3975,
    3977, 3977, 3980, 4014, 4025, 4030, 4030, 4038, 4046, 4051,
    4051, 4054, 4067, 4057, 4073, 4086, 4078, 4097, 4118, 4146,
    4162, 4165, 4181, 4181, 4181, 4229, 4229, 4267, 4280, 4418,
    4418, 4437, 4464, 4464, 4488, 4534, 4757, 4765, 4776, 4776,
    4776,
]
MAX_Y = [
    -0.55, -0.80, -0.83, -0.82, -0.84, -0.59, -0.89, -0.94, -1.12, -1.28,
    -0.55, -0.56, -0.59, -1.12, -1.16, -0.77, -1.07, -0.24, -0.88, -0.68,
    -0.36, -0.36, -0.45, -0.52, -0.63, -0.67, -0.88, -1.00, -0.90, -0.72,
    -0.73, -0.75, -0.94, -1.29, -0.49, -1.01, -0.54, -0.57, -0.60, -0.65,
    -0.77, -0.82, -0.84, -0.73, -0.32, -0.35, -0.29, -1.07, -1.23, -0.50,
    -0.45, -0.44, -0.64, -0.66, -0.62, -0.93, -0.85, -1.53, -1.01, -1.06,
    -0.33, -0.53, -0.93, -0.93, -1.13, -1.33, -0.09, -1.08, -1.10, -0.72,
    -0.71, -0.70, -0.78, -0.52, -0.52, -0.46, -0.32, -0.43, -0.46, -0.47,
    -0.50, -0.64, -0.66, -0.65, -0.70, -0.80, -0.86, -0.92, -0.91, -1.03,
    -1.11, -1.10, -1.15, -0.62, -0.64, -0.65, -0.62, -0.76, -0.79, -0.82,
    -0.84, -0.87, -0.86, -1.26, -1.29, -1.31, -1.40, -0.37, -0.33, -0.69,
    -0.71, -0.73, -0.74, -1.07, -1.05, -1.15, -0.77, -0.80, -0.81, -0.83,
    -0.84, -0.80, -0.51, -0.62, -0.66, -0.70, -1.28, -0.12, -1.04, -0.91,
    -0.88, -0.90, -0.98, -0.97, -1.04, -0.33, -0.43, -0.41, -0.70, -0.78,
    -0.84, -0.91, -0.62, -0.63, -0.64, -1.15, -0.40, -0.41, -0.55, -0.80,
    -0.84, -0.86, -0.92, -0.78, -0.86, -0.24, -0.37, -0.39, -0.59, -0.59,
    -0.57, -1.52, -0.55, -0.56, -0.62, -0.52, -0.47, -0.76, -0.82, -1.05,
    -0.63, -0.65, -0.68, -0.52, -0.47, -0.55, -0.61, -0.34, -0.96, -1.02,
    -0.82, -0.89, -1.00, -0.43, -0.42, -0.45, -0.50, -0.54, -0.52, -0.24,
    -0.63, -0.69, -0.65, -0.71, -0.62, -0.57, -0.53, -0.59, -0.57, -0.55,
    -0.42, -0.93, -0.31, -0.32, -0.72, -1.15, -0.30, -0.16, -0.46, -0.53,
    -0.59, -0.40, -0.69, -0.71, -0.70, -0.68, -0.60, -0.90, -0.87, -1.62,
    -0.49, -0.38, -0.40, -0.69, -0.65, -0.72, -0.63, -0.51, -0.82, -1.39,
    -1.02, -0.36, -0.81, -0.46, -0.64, -0.37, -0.25, -0.28, -0.30, -0.43,
    -0.61, -0.47, -1.38, -0.60, -0.82, -0.24, -0.26, -0.35, -0.38, -0.46,
    -0.70, -0.75, -0.61, -0.56, -0.42, -0.51, -0.78, -0.96, -0.95, -0.11,
    -0.31, -0.67, -0.67, -0.54, -0.86, -0.82, -1.05, -0.35, -0.60, -0.52,
    -0.78, -0.12, -0.60, -0.98, -0.36, -0.17, -0.34, -0.68, -0.27, -0.16,
    -0.31, -0.40, -0.08, -0.14, -0.17, -0.72, -0.26, -0.38, -0.16, -0.75,
    -0.81,
]

# regression lines (end points)
SLOPE_FIT_X, SLOPE_FIT_Y = [10.0, 36.1], [-0.94, -0.29]
MED_FIT_X, MED_FIT_Y = [2590, 3779], [-1.03, -0.20]
AREA_FIT_X, AREA_FIT_Y = [0.13, 25.0], [-0.647, -0.80]
MIN_FIT_X, MIN_FIT_Y = [1269, 3194], [-0.762, -0.630]
MAX_FIT_X, MAX_FIT_Y = [3050, 4776], [-0.821, -0.299]

TITLES = ["Slope [deg.]", "Median altitude [m a.s.l.]", "Aspect",
          "Area [km²]", "Minimum altitude [m a.s.l.]", "Maximum altitude [m a.s.l.]"]
R2_LABELS = ["0. 19", "0. 24", "", "0. 03", "0. 01", "0. 12"]
Y_TITLE = "Mean mass balance [m w.e./yr]"

X_TICKS = [[10, 20, 30, 40], [2500, 3000, 3500, 4000], [0, 100, 200, 300],
           [0, 10, 20], [1000, 2000, 3000, 4000], [3000, 3500, 4000, 4500, 5000]]
X_DOMAINS = [[10, 40], [2500, 4000], [0, 360], [0, 25], [1000, 4000], [3000, 5000]]
Y_TICKS_A = [-2, -1, 0, 1]
Y_TICKS_B = [-2.0, -1.5, -1.0, -0.5, 0.0]
ASPECT_MINOR = [90, 180, 270]

for a, b in [(SLOPE_X, SLOPE_Y), (MED_X, MED_Y), (ASP_X, ASP_Y),
             (AREA_X, AREA_Y), (MIN_X, MIN_Y), (MAX_X, MAX_Y)]:
    assert len(a) == len(b), (len(a), len(b))

# ---------------- styling ----------------
W, H = 639, 480
TEAL = "#008080"
RED = "#FF6347"
FONT = "DejaVu Sans"
SERIF = "Liberation Serif"
TK = 7      # major tick length
TKM = 4     # minor tick length
LW = 1.3


def panel(i, xs, ys, ydom, yticks, yfmt, fit=None, ytitle=None, minor=None):
    xdom, xticks = X_DOMAINS[i], X_TICKS[i]
    X = alt.X("x:Q", scale=alt.Scale(domain=xdom, nice=False, zero=False),
              axis=alt.Axis(values=xticks, format="d"), title=None)
    if ytitle:
        Y = alt.Y("y:Q", scale=alt.Scale(domain=ydom, nice=False, zero=False),
                  axis=alt.Axis(values=yticks, format=yfmt), title=ytitle)
    else:
        Y = alt.Y("y:Q", scale=alt.Scale(domain=ydom, nice=False, zero=False),
                  axis=alt.Axis(values=yticks, format=yfmt), title=None)

    pts = alt.Chart(pd.DataFrame({"x": xs, "y": ys})).mark_circle(
        size=58, color=TEAL, opacity=1, clip=True).encode(x=X, y=Y)
    layers = [pts]

    if fit is not None:
        line = alt.Chart(pd.DataFrame({"x": fit[0], "y": fit[1]})).mark_line(
            color=RED, strokeWidth=1.8, clip=True).encode(x=X, y=Y)
        layers.append(line)

    xt = pd.DataFrame({"x": xticks})
    yt = pd.DataFrame({"y": yticks})
    rule = dict(color="black", strokeWidth=LW)
    layers += [
        alt.Chart(xt).mark_rule(**rule).encode(x=X, y=alt.value(H), y2=alt.value(H - TK)),
        alt.Chart(xt).mark_rule(**rule).encode(x=X, y=alt.value(0), y2=alt.value(TK)),
        alt.Chart(yt).mark_rule(**rule).encode(y=Y, x=alt.value(0), x2=alt.value(TK)),
        alt.Chart(yt).mark_rule(**rule).encode(y=Y, x=alt.value(W), x2=alt.value(W - TK)),
    ]
    if minor:
        mt = pd.DataFrame({"x": minor})
        layers += [
            alt.Chart(mt).mark_rule(**rule).encode(x=X, y=alt.value(H), y2=alt.value(H - TKM)),
            alt.Chart(mt).mark_rule(**rule).encode(x=X, y=alt.value(0), y2=alt.value(TKM)),
        ]

    one = pd.DataFrame({"k": [0]})
    if R2_LABELS[i]:
        bx0, bx1 = W - 293, W - 9
        layers += [
            alt.Chart(one).mark_rect(fill="white", stroke="black", strokeWidth=LW).encode(
                x=alt.value(bx0), x2=alt.value(bx1), y=alt.value(18), y2=alt.value(83)),
            alt.Chart(one).mark_rule(color=RED, strokeWidth=1.8).encode(
                x=alt.value(bx0 + 24), x2=alt.value(bx0 + 76), y=alt.value(48)),
            alt.Chart(one).mark_text(font=SERIF, fontStyle="italic", fontSize=38,
                                     align="left", baseline="alphabetic").encode(
                x=alt.value(bx0 + 116), y=alt.value(61), text=alt.value("r")),
            alt.Chart(one).mark_text(font=SERIF, fontSize=25,
                                     align="left", baseline="alphabetic").encode(
                x=alt.value(bx0 + 132), y=alt.value(42), text=alt.value("2")),
            alt.Chart(one).mark_text(font="DejaVu Serif", fontSize=36,
                                     align="left", baseline="alphabetic").encode(
                x=alt.value(bx0 + 150), y=alt.value(61), text=alt.value("=")),
            alt.Chart(one).mark_text(font=SERIF, fontSize=38,
                                     align="left", baseline="alphabetic").encode(
                x=alt.value(bx0 + 187), y=alt.value(61), text=alt.value(R2_LABELS[i])),
        ]

    # panel title, drawn as text just above the frame
    layers.append(
        alt.Chart(one).mark_text(font=FONT, fontSize=34, align="center",
                                 baseline="alphabetic", color="black").encode(
            x=alt.value(W / 2), y=alt.value(-9), text=alt.value(TITLES[i])))

    return alt.layer(*layers).properties(width=W, height=H)


p1 = panel(0, SLOPE_X, SLOPE_Y, [-2, 1], Y_TICKS_A, "d", (SLOPE_FIT_X, SLOPE_FIT_Y), Y_TITLE)
p2 = panel(1, MED_X, MED_Y, [-2, 1], Y_TICKS_A, "d", (MED_FIT_X, MED_FIT_Y))
p3 = panel(2, ASP_X, ASP_Y, [-2, 0], Y_TICKS_B, ".1f", None, None, ASPECT_MINOR)
p4 = panel(3, AREA_X, AREA_Y, [-2, 1], Y_TICKS_A, "d", (AREA_FIT_X, AREA_FIT_Y), Y_TITLE)
p5 = panel(4, MIN_X, MIN_Y, [-2, 0], Y_TICKS_B, ".1f", (MIN_FIT_X, MIN_FIT_Y))
p6 = panel(5, MAX_X, MAX_Y, [-2, 1], Y_TICKS_A, "d", (MAX_FIT_X, MAX_FIT_Y))

chart = alt.concat(p1, p2, p3, p4, p5, p6, columns=3, bounds="flush",
                   spacing={"row": 110, "column": 152}).properties(
    padding={"left": 0, "top": 0, "right": 0, "bottom": 0},
    background="white",
).configure_view(
    stroke="black", strokeWidth=LW
).configure_axis(
    labelFont=FONT, labelFontSize=28, labelColor="black", ticks=False, domain=False,
    grid=False, labelFlush=False, labelOverlap=False,
    titleFont=FONT, titleFontSize=32, titleFontWeight="normal", titleColor="black",
    titlePadding=6,
).configure_axisX(
    labelPadding=5
).configure_axisY(
    labelPadding=8
)

chart.save("out.html", embed_options={"renderer": "svg", "actions": False})
